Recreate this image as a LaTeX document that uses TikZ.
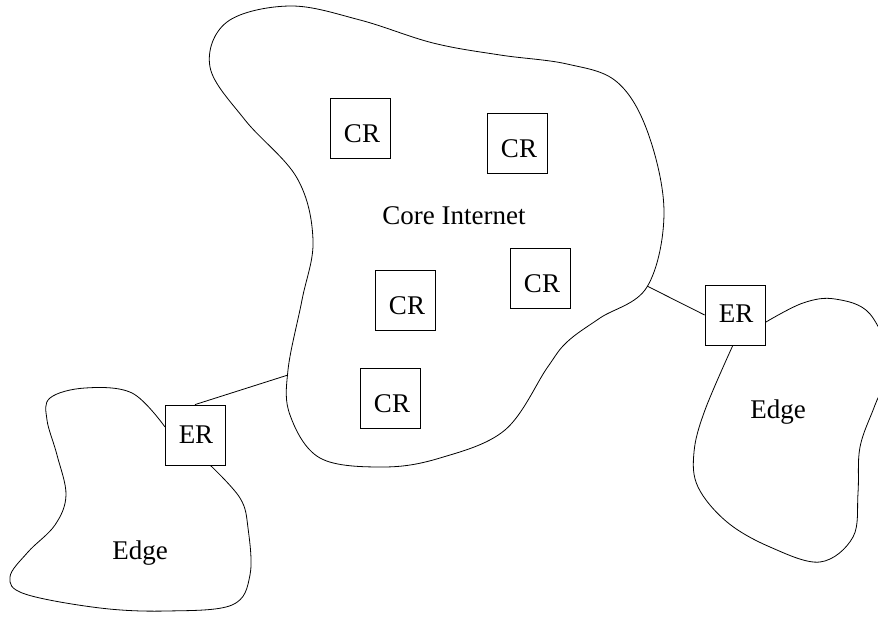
\documentclass[tikz,border=0pt]{standalone}
\usepackage{fontspec}
\setmainfont{Liberation Serif}
\begin{document}
\begin{tikzpicture}[x=1pt,y=-1pt,line width=0.8pt,
  router/.style={draw,minimum size=60pt,inner sep=0pt,fill=white},
  lbl/.style={font=\fontsize{27}{32}\selectfont,inner sep=0pt},
  blob/.style={draw,line width=0.8pt}]
\useasboundingbox (0,0) rectangle (878,617);
\clip (0,0) rectangle (878,617);
% core internet cloud
\draw[blob] plot[smooth cycle,tension=0.6] coordinates {
 (210,67) (227,22) (290,6) (360,20) (433,43) (500,55) (567,64) (617,82)
 (648,133) (664,213) (647,287) (600,318) (567,342) (547,368) (505,430)
 (440,458) (383,467) (320,458) (290,415) (288,370) (302,300) (313,240)
 (297,178) (245,120)};
\node[lbl] (core) at (454,216) {Core Internet};
% left edge cloud
\draw[blob] plot[smooth,tension=0.6] coordinates {
 (165,427) (132,393) (85,388) (50,398) (47,420) (57,455) (66,495) (55,525)
 (28,552) (10,577) (25,594) (100,608) (167,611) (232,605) (250,575)
 (248,528) (240,498) (210,465)};
\node[lbl] (edgeL) at (140,553) {Edge};
% right edge cloud
\draw[blob] plot[smooth,tension=0.6] coordinates {
 (766,322) (803,303) (835,299) (870,314) (890,364) (875,405) (860,447)
 (858,493) (853,537) (820,562) (770,547) (727,522) (698,487) (694,452)
 (705,410) (733,345)};
\node[lbl] (edgeR) at (778,412) {Edge};
% core routers
\node[router] (cr1) at (360,128) {};
\node[router] (cr2) at (517,143) {};
\node[router] (cr3) at (540,278) {};
\node[router] (cr4) at (405,300) {};
\node[router] (cr5) at (390,398) {};
\foreach \n in {cr1,cr2,cr3,cr4,cr5}
  \node[lbl] at ([shift={(2,6)}]\n.center) {CR};
% edge routers
\node[router] (erL) at (195,435) {};
\node[router] (erR) at (735,315) {};
\node[lbl] at ([shift={(1,0)}]erL.center) {ER};
\node[lbl] at ([shift={(1,-1)}]erR.center) {ER};
% links
\coordinate (coreL) at (288,375);
\coordinate (coreR) at (647,286);
\draw (erL.north) -- (coreL);
\draw (coreR) -- (erR.west);
\end{tikzpicture}
\end{document}
